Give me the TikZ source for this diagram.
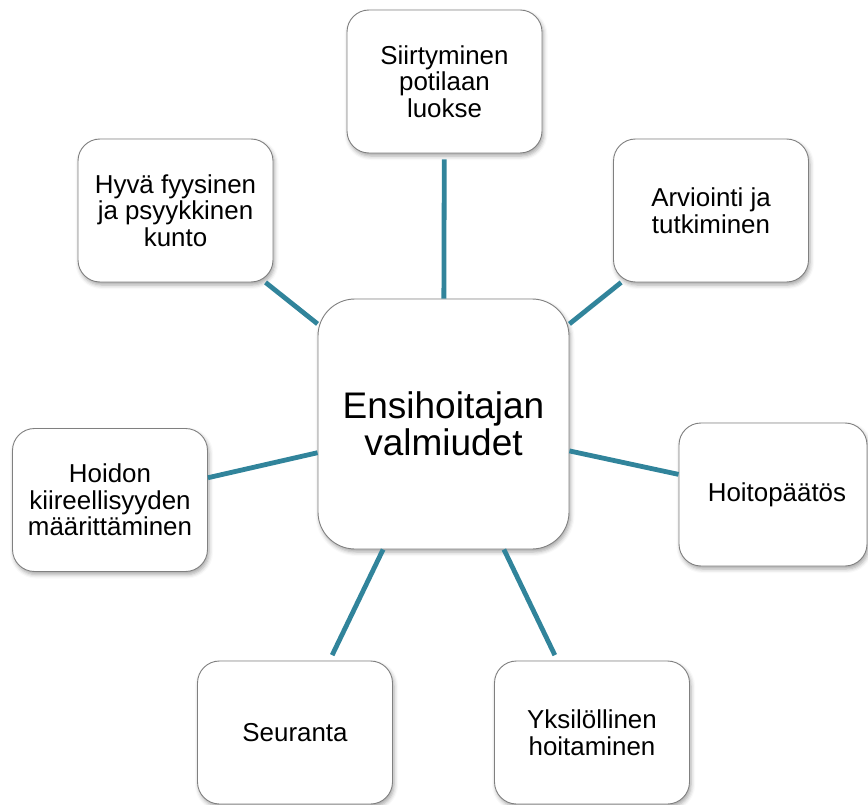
\documentclass[tikz,border=0pt]{standalone}
\usepackage{fontspec}
\setmainfont{Liberation Sans}
\usetikzlibrary{shadows.blur}
\definecolor{linkteal}{RGB}{49,132,155}
\definecolor{boxedge}{RGB}{128,128,128}
\begin{document}
\begin{tikzpicture}[x=1pt,y=-1pt,
  card/.style={draw=boxedge, line width=0.9pt, fill=white, rounded corners=22pt,
    minimum width=195pt, minimum height=143pt, inner sep=0pt, align=center,
    font=\fontsize{25.9}{26.5}\selectfont,
    blur shadow={shadow xshift=1.5pt, shadow yshift=-3pt, shadow blur radius=4pt, shadow opacity=35}},
  hub/.style={card, rounded corners=37pt, minimum width=251pt, minimum height=250pt,
    font=\fontsize{37}{36.7}\selectfont},
  link/.style={draw=linkteal, line width=4.8pt}]
\useasboundingbox (0,0) rectangle (868,805);

% central competence and the seven surrounding skills
\node[hub]  (hub) at (443.5,424) {Ensihoitajan\\valmiudet};
\node[card] (move)   at (444.5,81.5)  {Siirtyminen\\potilaan\\luokse};
\node[card] (assess) at (711,210.5)   {Arviointi ja\\tutkiminen};
\node[card, minimum width=188pt] (decide) at (773,494.5) {\hspace*{8pt}Hoitopäätös};
\node[card] (care)   at (592,732.5)   {Yksilöllinen\\hoitaminen};
\node[card] (follow) at (295,732.5)   {Seuranta};
\node[card] (triage) at (110,500)     {Hoidon\\kiireellisyyden\\määrittäminen};
\node[card] (fit)    at (175.5,210.5) {Hyvä fyysinen\\ja psyykkinen\\kunto};

% spokes from the hub to each skill
\draw[link, shorten >=6pt] (hub) -- (move);
\draw[link] (hub) -- (assess);
\draw[link] (hub) -- (decide);
\draw[link, shorten >=6pt] (hub) -- (care);
\draw[link, shorten >=6pt] (hub) -- (follow);
\draw[link] (hub) -- (triage);
\draw[link] (hub) -- (fit);
\end{tikzpicture}
\end{document}
